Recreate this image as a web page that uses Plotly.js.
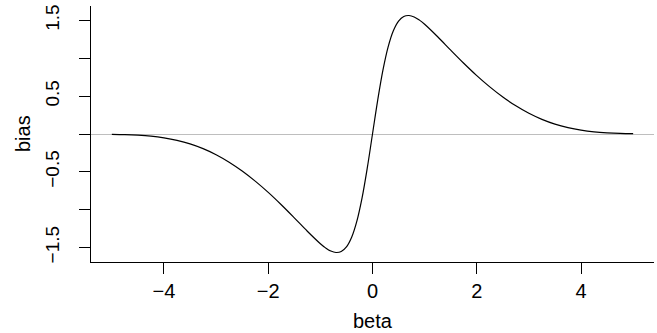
<!DOCTYPE html>
<html>
<head>
<meta charset="utf-8">
<script src="https://cdn.plot.ly/plotly-3.0.1.min.js"></script>
<style>
  html, body { margin: 0; padding: 0; background: #ffffff; }
  #chart { width: 657px; height: 333px; }
</style>
</head>
<body>
<div id="chart"></div>
<script>
// Values
const beta = [
  -5, -4.75, -4.5, -4.25, -4, -3.75, -3.5, -3.25, -3, -2.75, -2.5, -2.25,
  -2, -1.75, -1.5, -1.25, -1, -0.9, -0.8, -0.7, -0.6, -0.5, -0.4, -0.3,
  -0.2, -0.1, 0, 0.1, 0.2, 0.3, 0.4, 0.5, 0.6, 0.7, 0.8, 0.9, 1, 1.25,
  1.5, 1.75, 2, 2.25, 2.5, 2.75, 3, 3.25, 3.5, 3.75, 4, 4.25, 4.5, 4.75, 5
];
const bias = [
  -0.004, -0.008, -0.016, -0.029, -0.051, -0.084, -0.130, -0.193, -0.273, -0.372, -0.489, -0.623,
  -0.772, -0.935, -1.108, -1.285, -1.450, -1.505, -1.547, -1.566, -1.554, -1.493, -1.365, -1.152,
  -0.844, -0.448, 0, 0.448, 0.844, 1.152, 1.365, 1.493, 1.554, 1.566, 1.547, 1.505, 1.450, 1.285,
  1.108, 0.935, 0.772, 0.623, 0.489, 0.372, 0.273, 0.193, 0.130, 0.084, 0.051, 0.029, 0.016, 0.008, 0.004
];
const xTickVals = [-4, -2, 0, 2, 4];
const xTickText = ["\u22124", "\u22122", "0", "2", "4"];
const yTickVals = [-1.5, -1, -0.5, 0, 0.5, 1, 1.5];
const yTickText = ["\u22121.5", "", "\u22120.5", "", "0.5", "", "1.5"];
const xLabel = "beta";
const yLabel = "bias";

const trace = {
  x: beta,
  y: bias,
  type: "scatter",
  mode: "lines",
  line: { color: "#000000", width: 1.2, shape: "spline", smoothing: 1 },
  hoverinfo: "skip"
};

const font = { family: "Liberation Sans, Arial, sans-serif", size: 20, color: "#000000" };
const yTickFont = { family: "Liberation Sans, Arial, sans-serif", size: 19, color: "#000000" };

const layout = {
  width: 657,
  height: 333,
  margin: { l: 91, r: 3, t: 6, b: 71 },
  paper_bgcolor: "#ffffff",
  plot_bgcolor: "#ffffff",
  showlegend: false,
  font: font,
  xaxis: {
    range: [-5.4, 5.4],
    tickmode: "array",
    tickvals: xTickVals,
    ticktext: xTickText,
    ticks: "outside",
    ticklen: 11,
    tickwidth: 1,
    tickcolor: "#000000",
    showline: true,
    linecolor: "#000000",
    linewidth: 1,
    showgrid: false,
    zeroline: false,
    tickfont: font
  },
  yaxis: {
    range: [-1.6917, 1.6917],
    tickmode: "array",
    tickvals: yTickVals,
    ticktext: yTickText,
    tickangle: -90,
    ticklabelstandoff: 12,
    ticks: "outside",
    ticklen: 11,
    tickwidth: 1,
    tickcolor: "#000000",
    showline: true,
    linecolor: "#000000",
    linewidth: 1,
    showgrid: false,
    zeroline: true,
    zerolinecolor: "#bebebe",
    zerolinewidth: 1,
    tickfont: yTickFont
  },
  annotations: [
    {
      text: xLabel, xref: "paper", yref: "paper", x: 0.5, y: 0,
      xanchor: "center", yanchor: "middle", yshift: -59, showarrow: false, font: font
    },
    {
      text: yLabel, xref: "paper", yref: "paper", x: 0, y: 0.5,
      xanchor: "center", yanchor: "middle", xshift: -68, textangle: -90, showarrow: false, font: font
    }
  ]
};

Plotly.newPlot("chart", [trace], layout, { displayModeBar: false, staticPlot: true });
</script>
</body>
</html>
